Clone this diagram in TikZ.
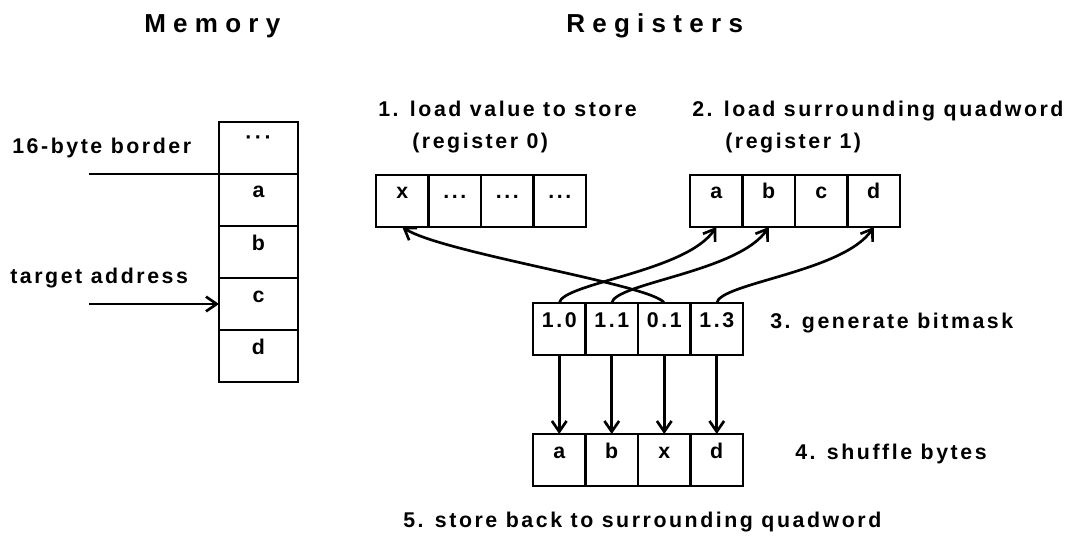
\documentclass[tikz,border=0pt]{standalone}
\usepackage{fontspec}
\usepackage{tikz}
\usetikzlibrary{positioning,arrows.meta}
\newfontfamily\diagfont{Liberation Sans Bold}[LetterSpace=12]
\newfontfamily\titlefont{Liberation Sans Bold}[LetterSpace=28]
\newcommand\regdots{...}
\newcommand\memdots{\raisebox{0.12ex}{\textperiodcentered\textperiodcentered\textperiodcentered}}

\begin{document}
\begin{tikzpicture}[x=0.75pt,y=-0.75pt,
  every node/.style={font=\diagfont\fontsize{16}{18}\selectfont},
  lbl/.style={inner sep=0pt,anchor=base west},
  title/.style={inner sep=0pt,anchor=base west,font=\titlefont\fontsize{19.5}{22}\selectfont},
  cell/.style={draw,line width=2pt,outer sep=0pt,inner xsep=0pt,inner ysep=8pt,
    text height=10pt,text depth=13pt,minimum width=39.375pt},
  memcell/.style={cell,minimum width=59.25pt},
  arr/.style={line width=2pt,-{Straight Barb[length=8pt,width=11pt]}}]

\useasboundingbox (0,0) rectangle (1076,542);

% titles
\node[title] (memtitle) at (144,33) {Memory};
\node[title] (regtitle) at (566,33) {Registers};

% memory column
\foreach \t [count=\i from 0] in {\memdots,a,b,c,d}
  \node[memcell] (m\i) at (258.5,{148+52*\i}) {\t};

\node[lbl] (borderlbl) at (12,153) {16-byte border};
\node[lbl] (targetlbl) at (10,283) {target address};
\coordinate (border) at (89,174);
\coordinate (target) at (89,304);
\draw[line width=2pt] (border) -- (m0.south west);
\draw[arr] (target) -- (m3.west);

% registers
\node[lbl] (load0) at (378,117) {1. load value to store};
\node[lbl] (reg0) at (412,148) {(register 0)};
\node[lbl] (load1) at (692,117) {2. load surrounding quadword};
\node[lbl] (reg1) at (725,148) {(register 1)};

\foreach \t [count=\i] in {x,\regdots,\regdots,\regdots}
  \node[cell] (r0-\i) at ({349.75+52.5*\i},201) {\t};
\foreach \t [count=\i] in {a,b,c,d}
  \node[cell] (r1-\i) at ({663.75+52.5*\i},201) {\t};

% bitmask and result
\foreach \t [count=\i] in {1.0,1.1,0.1,1.3}
  \node[cell] (b\i) at ({506.75+52.5*\i},329) {\t};
\foreach \t [count=\i] in {a,b,x,d}
  \node[cell] (s\i) at ({506.75+52.5*\i},460) {\t};

\node[lbl] (genlbl) at (770,328) {3. generate bitmask};
\node[lbl] (shuflbl) at (795,459) {4. shuffle bytes};
\node[lbl] (storelbl) at (403,527) {5. store back to surrounding quadword};

% connectors
\draw[arr] (b1.north) .. controls +(3,-20) and +(-30,45) .. (r1-1.south);
\draw[arr] (b2.north) .. controls +(3,-20) and +(-30,45) .. (r1-2.south);
\draw[arr] (b3.north) .. controls +(-10,-18) and +(40,26) .. (r0-1.south);
\draw[arr] (b4.north) .. controls +(3,-20) and +(-30,45) .. (r1-4.south);
\foreach \i in {1,...,4}
  \draw[arr] (b\i.south) -- (s\i.north);

\end{tikzpicture}
\end{document}
